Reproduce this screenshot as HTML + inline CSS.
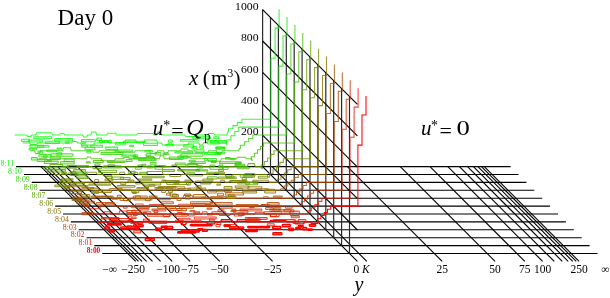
<!DOCTYPE html><html><head><meta charset="utf-8"><style>html,body{margin:0;padding:0;background:#fff;width:610px;height:298px;overflow:hidden}svg{display:block;will-change:transform}text{font-family:"Liberation Serif",serif}</style></head><body>
<svg width="610" height="298" viewBox="0 0 610 298">
<g stroke="#000" stroke-width="1.1" fill="none">
<line x1="102.20" y1="253.50" x2="597.50" y2="253.50"/>
<line x1="94.37" y1="245.60" x2="589.60" y2="245.60"/>
<line x1="86.54" y1="237.70" x2="581.70" y2="237.70"/>
<line x1="78.71" y1="229.80" x2="573.80" y2="229.80"/>
<line x1="70.88" y1="221.90" x2="565.90" y2="221.90"/>
<line x1="63.05" y1="214.00" x2="558.00" y2="214.00"/>
<line x1="55.22" y1="206.10" x2="550.10" y2="206.10"/>
<line x1="47.39" y1="198.20" x2="542.20" y2="198.20"/>
<line x1="39.56" y1="190.30" x2="534.30" y2="190.30"/>
<line x1="31.73" y1="182.40" x2="526.40" y2="182.40"/>
<line x1="23.90" y1="174.50" x2="518.50" y2="174.50"/>
<line x1="16.07" y1="166.60" x2="510.60" y2="166.60"/>
</g>
<g stroke="#000" stroke-width="1.1" fill="none">
<line x1="40.88" y1="166.60" x2="135.68" y2="261.40"/>
<line x1="43.74" y1="166.60" x2="138.54" y2="261.40"/>
<line x1="47.28" y1="166.60" x2="142.08" y2="261.40"/>
<line x1="51.79" y1="166.60" x2="146.59" y2="261.40"/>
<line x1="57.70" y1="166.60" x2="152.50" y2="261.40"/>
<line x1="65.78" y1="166.60" x2="160.58" y2="261.40"/>
<line x1="77.38" y1="166.60" x2="172.18" y2="261.40"/>
<line x1="95.20" y1="166.60" x2="190.00" y2="261.40"/>
<line x1="124.91" y1="166.60" x2="219.71" y2="261.40"/>
<line x1="177.83" y1="166.60" x2="272.63" y2="261.40"/>
<line x1="262.60" y1="166.60" x2="357.40" y2="261.40"/>
<line x1="347.37" y1="166.60" x2="442.17" y2="261.40"/>
<line x1="400.29" y1="166.60" x2="495.09" y2="261.40"/>
<line x1="430.00" y1="166.60" x2="524.80" y2="261.40"/>
<line x1="447.82" y1="166.60" x2="542.62" y2="261.40"/>
<line x1="459.42" y1="166.60" x2="554.22" y2="261.40"/>
<line x1="467.50" y1="166.60" x2="562.30" y2="261.40"/>
<line x1="473.41" y1="166.60" x2="568.21" y2="261.40"/>
<line x1="477.92" y1="166.60" x2="572.72" y2="261.40"/>
<line x1="481.46" y1="166.60" x2="576.26" y2="261.40"/>
<line x1="484.32" y1="166.60" x2="579.12" y2="261.40"/>
<line x1="272.00" y1="166.60" x2="366.80" y2="261.40"/>
<line x1="349.50" y1="253.50" x2="349.50" y2="96.50" stroke="#2a2a2a" stroke-width="1.2"/>
<line x1="341.60" y1="245.60" x2="341.60" y2="88.60" stroke="#2a2a2a" stroke-width="1.2"/>
<line x1="333.70" y1="237.70" x2="333.70" y2="80.70" stroke="#2a2a2a" stroke-width="1.2"/>
<line x1="325.80" y1="229.80" x2="325.80" y2="72.80" stroke="#2a2a2a" stroke-width="1.2"/>
<line x1="317.90" y1="221.90" x2="317.90" y2="64.90" stroke="#2a2a2a" stroke-width="1.2"/>
<line x1="310.00" y1="214.00" x2="310.00" y2="57.00" stroke="#2a2a2a" stroke-width="1.2"/>
<line x1="302.10" y1="206.10" x2="302.10" y2="49.10" stroke="#2a2a2a" stroke-width="1.2"/>
<line x1="294.20" y1="198.20" x2="294.20" y2="41.20" stroke="#2a2a2a" stroke-width="1.2"/>
<line x1="286.30" y1="190.30" x2="286.30" y2="33.30" stroke="#2a2a2a" stroke-width="1.2"/>
<line x1="278.40" y1="182.40" x2="278.40" y2="25.40" stroke="#2a2a2a" stroke-width="1.2"/>
<line x1="270.50" y1="174.50" x2="270.50" y2="17.50" stroke="#2a2a2a" stroke-width="1.2"/>
<line x1="262.60" y1="166.60" x2="262.60" y2="9.60" stroke="#2a2a2a" stroke-width="1.2"/>
<line x1="262.60" y1="135.20" x2="357.40" y2="230.00"/>
<line x1="262.60" y1="103.80" x2="357.40" y2="198.60"/>
<line x1="262.60" y1="72.40" x2="357.40" y2="167.20"/>
<line x1="262.60" y1="41.00" x2="357.40" y2="135.80"/>
<line x1="262.60" y1="9.60" x2="357.40" y2="104.40"/>
</g>
<g fill="none" stroke-width="1.05" stroke-opacity="0.8">
<path d="M101.60,221.90 L111.60,221.90 L112.60,220.10 L116.60,220.10 L117.60,221.90 L127.60,221.90 L128.60,220.10 L132.60,220.10 L133.60,221.90 L137.60,221.90 L138.60,224.50 L141.60,224.50 L142.60,221.90 L150.60,221.90 L150.60,221.90 L165.60,221.90 L165.60,221.90 L180.60,221.90 L181.60,224.50 L185.60,224.50 L186.60,221.90 L191.60,221.90 L191.60,221.90 L206.60,221.90 L207.60,223.90 L214.60,223.90 L215.60,221.90 L220.60,221.90 L221.60,219.70 L231.60,219.70 L232.60,221.90 L236.60,221.90 L237.60,219.70 L245.60,219.70 L246.60,221.90 L250.60,221.90 L250.60,221.90 L257.60,221.90 L257.60,221.90 L269.60,221.90 L270.60,220.40 L285.60,220.40 L286.60,221.90 L294.60,221.90 L295.60,223.90 L303.60,223.90 L304.60,221.90 L307.60,221.90 L307.60,221.90 L310.60,221.90 L311.60,223.40 L317.65,223.40 L318.65,221.90 L317.65,221.90" stroke="rgb(255,0,0)" stroke-width="1.35" stroke-opacity="1"/>
<path d="M317.65,221.90 L317.65,221.90 L317.65,218.74 L320.93,218.74 L320.93,218.74 L320.93,215.58 L324.21,215.58 L324.21,215.58 L324.21,212.42 L327.49,212.42 L327.49,212.42 L327.49,209.26 L330.77,209.26 L330.77,209.26 L330.77,206.10 L334.05,206.10 L357.90,206.10 L357.90,145.10 L362.00,145.10 L362.00,115.00 L366.00,115.00 L366.00,96.10" stroke="rgb(255,0,0)" stroke-opacity="1"/>
<g stroke="rgb(255,0,0)" fill="rgb(255,0,0)" stroke-width="1.35" stroke-opacity="1" fill-opacity="0.5"><rect x="107.27" y="223.70" width="14.00" height="1.40" rx="0.7"/><rect x="133.27" y="224.90" width="10.00" height="1.90" rx="0.7"/><rect x="161.27" y="226.10" width="6.00" height="1.40" rx="0.7"/><rect x="190.27" y="224.30" width="22.00" height="1.40" rx="0.7"/><rect x="224.27" y="224.90" width="6.00" height="1.40" rx="0.7"/><rect x="282.27" y="224.30" width="8.00" height="2.40" rx="0.7"/><rect x="298.27" y="225.50" width="5.00" height="1.40" rx="0.7"/><rect x="309.27" y="224.30" width="6.38" height="1.90" rx="0.7"/><rect x="104.69" y="226.90" width="5.00" height="2.40" rx="0.7"/><rect x="120.69" y="226.90" width="18.00" height="1.90" rx="0.7"/><rect x="155.69" y="228.10" width="6.00" height="2.40" rx="0.7"/><rect x="164.69" y="226.30" width="8.00" height="2.40" rx="0.7"/><rect x="197.69" y="228.70" width="5.00" height="1.40" rx="0.7"/><rect x="229.69" y="226.90" width="14.00" height="1.90" rx="0.7"/><rect x="247.69" y="226.30" width="22.00" height="1.40" rx="0.7"/><rect x="272.69" y="226.30" width="8.00" height="2.40" rx="0.7"/><rect x="288.69" y="228.10" width="5.00" height="2.40" rx="0.7"/><rect x="295.69" y="227.50" width="5.00" height="1.40" rx="0.7"/><rect x="302.69" y="227.50" width="4.00" height="2.40" rx="0.7"/><rect x="109.38" y="230.10" width="5.00" height="1.90" rx="0.7"/><rect x="181.38" y="230.10" width="18.00" height="1.90" rx="0.7"/><rect x="202.38" y="229.50" width="5.00" height="1.90" rx="0.7"/><rect x="245.38" y="230.10" width="12.00" height="1.40" rx="0.7"/><rect x="307.38" y="228.90" width="5.00" height="1.40" rx="0.7"/><rect x="177.64" y="231.70" width="18.00" height="1.40" rx="0.7"/><rect x="145.29" y="238.42" width="9.00" height="2.20" rx="0.7"/><rect x="272.87" y="232.71" width="9.00" height="2.20" rx="0.7"/></g>
<path d="M93.70,214.00 L99.70,214.00 L99.70,214.00 L103.70,214.00 L104.70,211.80 L109.70,211.80 L110.70,214.00 L118.70,214.00 L119.70,211.00 L126.70,211.00 L127.70,214.00 L142.70,214.00 L143.70,212.50 L146.70,212.50 L147.70,214.00 L162.70,214.00 L163.70,216.60 L169.70,216.60 L170.70,214.00 L176.70,214.00 L177.70,212.50 L181.70,212.50 L182.70,214.00 L187.70,214.00 L188.70,216.00 L193.70,216.00 L194.70,214.00 L197.70,214.00 L197.70,214.00 L201.70,214.00 L202.70,211.80 L206.70,211.80 L207.70,214.00 L212.70,214.00 L212.70,214.00 L218.70,214.00 L219.70,215.50 L229.70,215.50 L230.70,214.00 L233.70,214.00 L234.70,216.00 L241.70,216.00 L242.70,214.00 L254.70,214.00 L255.70,212.20 L263.70,212.20 L264.70,214.00 L269.70,214.00 L270.70,216.60 L278.70,216.60 L279.70,214.00 L289.70,214.00 L290.70,215.50 L298.70,215.50 L299.70,214.00 L307.94,214.00 L307.94,214.00 L307.94,214.00" stroke="rgb(232,23,0)"/>
<path d="M307.94,214.00 L307.94,214.00 L307.94,210.84 L311.41,210.84 L311.41,210.84 L311.41,207.68 L314.89,207.68 L314.89,207.68 L314.89,204.52 L318.36,204.52 L318.36,204.52 L318.36,201.36 L321.84,201.36 L321.84,201.36 L321.84,198.20 L325.31,198.20 L350.00,198.20 L350.00,137.20 L354.10,137.20 L354.10,107.10 L358.10,107.10 L358.10,88.20" stroke="rgb(232,23,0)"/>
<g stroke="rgb(232,23,0)" fill="rgb(232,23,0)" fill-opacity="0.15"><rect x="101.25" y="217.60" width="18.00" height="1.40" rx="0.7"/><rect x="131.25" y="217.00" width="5.00" height="1.40" rx="0.7"/><rect x="178.25" y="218.20" width="12.00" height="1.90" rx="0.7"/><rect x="194.25" y="217.00" width="22.00" height="1.90" rx="0.7"/><rect x="245.25" y="217.60" width="22.00" height="1.90" rx="0.7"/><rect x="109.33" y="218.40" width="22.00" height="2.40" rx="0.7"/><rect x="143.33" y="219.00" width="6.00" height="1.90" rx="0.7"/><rect x="175.33" y="220.20" width="8.00" height="2.40" rx="0.7"/><rect x="191.33" y="220.20" width="10.00" height="1.90" rx="0.7"/><rect x="209.33" y="219.00" width="5.00" height="1.90" rx="0.7"/><rect x="246.33" y="219.00" width="14.00" height="1.40" rx="0.7"/><rect x="273.33" y="219.60" width="22.00" height="1.90" rx="0.7"/><rect x="298.33" y="219.60" width="7.60" height="1.90" rx="0.7"/><rect x="97.90" y="221.60" width="5.00" height="1.40" rx="0.7"/><rect x="114.90" y="222.80" width="4.00" height="1.40" rx="0.7"/><rect x="130.90" y="222.20" width="10.00" height="1.40" rx="0.7"/><rect x="148.90" y="221.00" width="18.00" height="2.40" rx="0.7"/><rect x="216.90" y="222.20" width="4.00" height="2.40" rx="0.7"/><rect x="292.90" y="221.00" width="6.00" height="2.40" rx="0.7"/><rect x="126.92" y="225.60" width="5.00" height="1.40" rx="0.7"/><rect x="215.92" y="224.40" width="4.00" height="2.40" rx="0.7"/><rect x="223.92" y="224.40" width="12.00" height="2.40" rx="0.7"/><rect x="133.64" y="230.68" width="7.00" height="2.20" rx="0.7"/><rect x="267.28" y="223.68" width="7.00" height="2.20" rx="0.7"/></g>
<path d="M85.80,206.10 L88.80,206.10 L89.80,208.70 L99.80,208.70 L100.80,206.10 L104.80,206.10 L105.80,203.10 L113.80,203.10 L114.80,206.10 L122.80,206.10 L123.80,208.10 L126.80,208.10 L127.80,206.10 L130.80,206.10 L130.80,206.10 L134.80,206.10 L135.80,203.90 L142.80,203.90 L143.80,206.10 L148.80,206.10 L149.80,204.60 L161.80,204.60 L162.80,206.10 L169.80,206.10 L169.80,206.10 L177.80,206.10 L178.80,204.30 L190.80,204.30 L191.80,206.10 L198.80,206.10 L198.80,206.10 L204.80,206.10 L205.80,204.60 L209.80,204.60 L210.80,206.10 L218.80,206.10 L219.80,208.10 L231.80,208.10 L232.80,206.10 L240.80,206.10 L240.80,206.10 L248.80,206.10 L249.80,207.60 L253.80,207.60 L254.80,206.10 L260.80,206.10 L261.80,204.60 L268.80,204.60 L269.80,206.10 L284.80,206.10 L285.80,208.10 L291.80,208.10 L292.80,206.10 L300.80,206.10 L301.80,204.60 L301.39,204.60" stroke="rgb(209,46,0)"/>
<path d="M301.39,204.60 L301.39,204.60 L301.39,201.74 L304.44,201.74 L304.44,201.74 L304.44,198.88 L307.48,198.88 L307.48,198.88 L307.48,196.02 L310.53,196.02 L310.53,196.02 L310.53,193.16 L313.58,193.16 L313.58,193.16 L313.58,190.30 L316.63,190.30 L342.10,190.30 L342.10,129.30 L346.20,129.30 L346.20,99.20 L350.20,99.20 L350.20,80.30" stroke="rgb(209,46,0)"/>
<g stroke="rgb(209,46,0)" fill="rgb(209,46,0)" fill-opacity="0.15"><rect x="131.92" y="210.30" width="4.00" height="2.40" rx="0.7"/><rect x="138.92" y="208.50" width="10.00" height="1.40" rx="0.7"/><rect x="151.92" y="209.10" width="14.00" height="1.90" rx="0.7"/><rect x="169.92" y="208.50" width="12.00" height="1.90" rx="0.7"/><rect x="206.92" y="207.90" width="5.00" height="1.40" rx="0.7"/><rect x="217.92" y="209.70" width="6.00" height="1.90" rx="0.7"/><rect x="231.92" y="209.10" width="4.00" height="1.90" rx="0.7"/><rect x="239.92" y="209.10" width="22.00" height="1.90" rx="0.7"/><rect x="269.92" y="209.10" width="10.00" height="2.40" rx="0.7"/><rect x="283.92" y="209.70" width="10.00" height="2.40" rx="0.7"/><rect x="126.86" y="210.50" width="14.00" height="1.90" rx="0.7"/><rect x="142.86" y="211.70" width="8.00" height="1.90" rx="0.7"/><rect x="153.86" y="210.50" width="4.00" height="1.90" rx="0.7"/><rect x="180.86" y="212.90" width="5.00" height="1.90" rx="0.7"/><rect x="193.86" y="211.70" width="6.00" height="1.40" rx="0.7"/><rect x="211.86" y="211.70" width="14.00" height="2.40" rx="0.7"/><rect x="233.86" y="210.50" width="14.00" height="2.40" rx="0.7"/><rect x="263.86" y="211.70" width="18.00" height="2.40" rx="0.7"/><rect x="289.86" y="211.10" width="9.52" height="2.40" rx="0.7"/><rect x="127.32" y="214.30" width="4.00" height="1.90" rx="0.7"/><rect x="133.32" y="213.70" width="4.00" height="1.90" rx="0.7"/><rect x="147.32" y="214.30" width="22.00" height="1.90" rx="0.7"/><rect x="175.32" y="214.30" width="12.00" height="1.90" rx="0.7"/><rect x="207.32" y="213.70" width="5.00" height="1.40" rx="0.7"/><rect x="238.32" y="213.10" width="6.00" height="2.40" rx="0.7"/><rect x="270.32" y="214.30" width="6.00" height="2.40" rx="0.7"/><rect x="291.15" y="215.90" width="8.24" height="1.90" rx="0.7"/><rect x="247.94" y="217.79" width="10.00" height="2.20" rx="0.7"/><rect x="248.93" y="219.38" width="9.00" height="2.20" rx="0.7"/></g>
<path d="M77.90,198.20 L81.90,198.20 L82.90,200.20 L88.90,200.20 L89.90,198.20 L94.90,198.20 L95.90,196.40 L110.90,196.40 L111.90,198.20 L114.90,198.20 L114.90,198.20 L122.90,198.20 L123.90,200.80 L129.90,200.80 L130.90,198.20 L134.90,198.20 L135.90,196.00 L139.90,196.00 L140.90,198.20 L144.90,198.20 L145.90,200.80 L149.90,200.80 L150.90,198.20 L158.90,198.20 L159.90,199.70 L169.90,199.70 L170.90,198.20 L182.90,198.20 L183.90,195.20 L191.90,195.20 L192.90,198.20 L199.90,198.20 L199.90,198.20 L209.90,198.20 L210.90,196.70 L225.90,196.70 L226.90,198.20 L234.90,198.20 L234.90,198.20 L241.90,198.20 L241.90,198.20 L249.90,198.20 L249.90,198.20 L259.90,198.20 L259.90,198.20 L262.90,198.20 L263.90,196.70 L267.90,196.70 L268.90,198.20 L276.90,198.20 L276.90,198.20 L281.90,198.20 L281.90,198.20 L289.90,198.20 L289.90,198.20 L293.23,198.20" stroke="rgb(185,70,0)"/>
<path d="M293.23,198.20 L293.23,198.20 L293.23,195.04 L296.51,195.04 L296.51,195.04 L296.51,191.88 L299.79,191.88 L299.79,191.88 L299.79,188.72 L303.07,188.72 L303.07,188.72 L303.07,185.56 L306.35,185.56 L306.35,185.56 L306.35,182.40 L309.64,182.40 L334.20,182.40 L334.20,121.40 L338.30,121.40 L338.30,91.30 L342.30,91.30 L342.30,72.40" stroke="rgb(185,70,0)"/>
<g stroke="rgb(185,70,0)" fill="rgb(185,70,0)" fill-opacity="0.15"><rect x="80.47" y="201.20" width="14.00" height="1.90" rx="0.7"/><rect x="96.47" y="202.40" width="18.00" height="1.90" rx="0.7"/><rect x="161.47" y="201.80" width="12.00" height="1.90" rx="0.7"/><rect x="190.47" y="201.80" width="22.00" height="1.90" rx="0.7"/><rect x="83.18" y="204.40" width="5.00" height="1.90" rx="0.7"/><rect x="192.18" y="203.80" width="14.00" height="1.40" rx="0.7"/><rect x="210.18" y="202.60" width="22.00" height="2.40" rx="0.7"/><rect x="236.18" y="204.40" width="22.00" height="2.40" rx="0.7"/><rect x="261.18" y="204.40" width="4.00" height="1.40" rx="0.7"/><rect x="267.18" y="202.60" width="12.00" height="2.40" rx="0.7"/><rect x="131.54" y="205.80" width="18.00" height="1.90" rx="0.7"/><rect x="157.54" y="206.40" width="18.00" height="1.90" rx="0.7"/><rect x="179.54" y="206.40" width="14.00" height="1.90" rx="0.7"/><rect x="205.54" y="205.20" width="5.00" height="1.40" rx="0.7"/><rect x="265.54" y="207.60" width="8.00" height="1.90" rx="0.7"/><rect x="189.90" y="210.40" width="5.00" height="1.40" rx="0.7"/><rect x="230.90" y="210.40" width="5.00" height="1.40" rx="0.7"/><rect x="271.90" y="209.80" width="19.33" height="1.40" rx="0.7"/><rect x="176.61" y="208.43" width="10.00" height="2.20" rx="0.7"/><rect x="81.99" y="212.59" width="12.00" height="2.20" rx="0.7"/></g>
<path d="M70.00,190.30 L75.00,190.30 L75.00,190.30 L90.00,190.30 L91.00,188.10 L98.00,188.10 L99.00,190.30 L105.00,190.30 L105.00,190.30 L109.00,190.30 L110.00,188.50 L122.00,188.50 L123.00,190.30 L129.00,190.30 L129.00,190.30 L144.00,190.30 L144.00,190.30 L150.00,190.30 L150.00,190.30 L156.00,190.30 L157.00,188.10 L172.00,188.10 L173.00,190.30 L177.00,190.30 L178.00,188.50 L190.00,188.50 L191.00,190.30 L196.00,190.30 L197.00,188.80 L202.00,188.80 L203.00,190.30 L207.00,190.30 L208.00,192.90 L216.00,192.90 L217.00,190.30 L224.00,190.30 L225.00,192.30 L231.00,192.30 L232.00,190.30 L236.00,190.30 L237.00,188.50 L242.00,188.50 L243.00,190.30 L255.00,190.30 L256.00,188.80 L268.00,188.80 L269.00,190.30 L273.00,190.30 L273.00,190.30 L280.00,190.30 L281.00,188.80 L284.35,188.80" stroke="rgb(162,93,0)"/>
<path d="M284.35,188.80 L284.35,188.80 L284.35,185.94 L287.84,185.94 L287.84,185.94 L287.84,183.08 L291.33,183.08 L291.33,183.08 L291.33,180.22 L294.82,180.22 L294.82,180.22 L294.82,177.36 L298.31,177.36 L298.31,177.36 L298.31,174.50 L301.80,174.50 L326.30,174.50 L326.30,113.50 L330.40,113.50 L330.40,83.40 L334.40,83.40 L334.40,64.50" stroke="rgb(162,93,0)"/>
<g stroke="rgb(162,93,0)" fill="rgb(162,93,0)" fill-opacity="0.15"><rect x="77.47" y="193.30" width="4.00" height="1.40" rx="0.7"/><rect x="132.47" y="192.10" width="4.00" height="1.40" rx="0.7"/><rect x="166.47" y="193.30" width="4.00" height="1.90" rx="0.7"/><rect x="172.47" y="194.50" width="6.00" height="2.40" rx="0.7"/><rect x="184.47" y="193.90" width="6.00" height="1.90" rx="0.7"/><rect x="193.47" y="194.50" width="12.00" height="2.40" rx="0.7"/><rect x="217.47" y="193.30" width="6.00" height="2.40" rx="0.7"/><rect x="225.47" y="192.70" width="18.00" height="2.40" rx="0.7"/><rect x="73.27" y="197.10" width="14.00" height="2.40" rx="0.7"/><rect x="91.27" y="195.90" width="22.00" height="1.40" rx="0.7"/><rect x="117.27" y="195.30" width="4.00" height="1.90" rx="0.7"/><rect x="133.27" y="195.90" width="14.00" height="2.40" rx="0.7"/><rect x="149.27" y="195.90" width="8.00" height="1.40" rx="0.7"/><rect x="185.27" y="196.50" width="5.00" height="2.40" rx="0.7"/><rect x="228.27" y="194.70" width="6.00" height="1.90" rx="0.7"/><rect x="273.27" y="195.90" width="9.07" height="1.40" rx="0.7"/><rect x="71.95" y="199.10" width="10.00" height="1.40" rx="0.7"/><rect x="111.95" y="197.90" width="6.00" height="1.40" rx="0.7"/><rect x="119.95" y="198.50" width="10.00" height="1.90" rx="0.7"/><rect x="133.95" y="198.50" width="18.00" height="1.40" rx="0.7"/><rect x="176.95" y="198.50" width="4.00" height="1.90" rx="0.7"/><rect x="200.95" y="197.30" width="22.00" height="1.40" rx="0.7"/><rect x="76.78" y="201.58" width="12.00" height="2.20" rx="0.7"/><rect x="273.88" y="207.63" width="7.00" height="2.20" rx="0.7"/></g>
<path d="M62.10,182.40 L70.10,182.40 L71.10,184.40 L74.10,184.40 L75.10,182.40 L87.10,182.40 L87.10,182.40 L94.10,182.40 L95.10,179.40 L98.10,179.40 L99.10,182.40 L111.10,182.40 L111.10,182.40 L123.10,182.40 L123.10,182.40 L135.10,182.40 L136.10,183.90 L140.10,183.90 L141.10,182.40 L146.10,182.40 L146.10,182.40 L158.10,182.40 L158.10,182.40 L163.10,182.40 L164.10,180.60 L179.10,180.60 L180.10,182.40 L186.10,182.40 L187.10,185.00 L190.10,185.00 L191.10,182.40 L195.10,182.40 L196.10,180.90 L211.10,180.90 L212.10,182.40 L220.10,182.40 L221.10,180.20 L224.10,180.20 L225.10,182.40 L229.10,182.40 L230.10,180.60 L245.10,180.60 L246.10,182.40 L252.10,182.40 L253.10,180.20 L268.10,180.20 L269.10,182.40 L275.10,182.40 L275.10,182.40 L277.59,182.40" stroke="rgb(139,116,0)"/>
<path d="M277.59,182.40 L277.59,182.40 L277.59,179.24 L280.96,179.24 L280.96,179.24 L280.96,176.08 L284.34,176.08 L284.34,176.08 L284.34,172.92 L287.71,172.92 L287.71,172.92 L287.71,169.76 L291.09,169.76 L291.09,169.76 L291.09,166.60 L294.46,166.60 L318.40,166.60 L318.40,105.60 L322.50,105.60 L322.50,75.50 L326.50,75.50 L326.50,56.60" stroke="rgb(139,116,0)"/>
<g stroke="rgb(139,116,0)" fill="rgb(139,116,0)" fill-opacity="0.15"><rect x="66.09" y="185.40" width="22.00" height="1.40" rx="0.7"/><rect x="117.09" y="185.40" width="18.00" height="1.90" rx="0.7"/><rect x="149.09" y="184.80" width="6.00" height="1.40" rx="0.7"/><rect x="158.09" y="186.60" width="18.00" height="1.40" rx="0.7"/><rect x="196.09" y="185.40" width="5.00" height="1.90" rx="0.7"/><rect x="224.09" y="186.60" width="8.00" height="2.40" rx="0.7"/><rect x="235.09" y="186.00" width="14.00" height="1.90" rx="0.7"/><rect x="63.85" y="186.80" width="6.00" height="1.40" rx="0.7"/><rect x="81.85" y="187.40" width="12.00" height="1.40" rx="0.7"/><rect x="116.85" y="189.20" width="14.00" height="1.40" rx="0.7"/><rect x="136.85" y="187.40" width="12.00" height="1.40" rx="0.7"/><rect x="154.85" y="187.40" width="8.00" height="1.90" rx="0.7"/><rect x="166.85" y="186.80" width="18.00" height="2.40" rx="0.7"/><rect x="187.85" y="188.00" width="18.00" height="1.90" rx="0.7"/><rect x="247.85" y="186.80" width="14.00" height="2.40" rx="0.7"/><rect x="264.85" y="189.20" width="10.00" height="1.40" rx="0.7"/><rect x="69.59" y="191.20" width="12.00" height="2.40" rx="0.7"/><rect x="93.59" y="190.60" width="18.00" height="1.90" rx="0.7"/><rect x="161.59" y="190.00" width="4.00" height="2.40" rx="0.7"/><rect x="168.59" y="190.60" width="4.00" height="1.90" rx="0.7"/><rect x="208.59" y="189.40" width="22.00" height="1.90" rx="0.7"/><rect x="242.59" y="191.20" width="14.00" height="1.90" rx="0.7"/><rect x="264.59" y="190.60" width="10.99" height="2.40" rx="0.7"/><rect x="81.91" y="194.60" width="8.00" height="2.40" rx="0.7"/><rect x="170.00" y="194.06" width="7.00" height="2.20" rx="0.7"/><rect x="225.87" y="196.17" width="10.00" height="2.20" rx="0.7"/></g>
<path d="M54.20,174.50 L60.20,174.50 L60.20,174.50 L63.20,174.50 L63.20,174.50 L67.20,174.50 L68.20,173.00 L76.20,173.00 L77.20,174.50 L85.20,174.50 L86.20,172.30 L96.20,172.30 L97.20,174.50 L103.20,174.50 L104.20,176.00 L111.20,176.00 L112.20,174.50 L119.20,174.50 L120.20,172.30 L124.20,172.30 L125.20,174.50 L133.20,174.50 L134.20,172.30 L137.20,172.30 L138.20,174.50 L143.20,174.50 L143.20,174.50 L146.20,174.50 L147.20,171.50 L162.20,171.50 L163.20,174.50 L169.20,174.50 L170.20,176.50 L180.20,176.50 L181.20,174.50 L189.20,174.50 L190.20,176.00 L202.20,176.00 L203.20,174.50 L213.20,174.50 L214.20,173.00 L218.20,173.00 L219.20,174.50 L225.20,174.50 L226.20,177.10 L231.20,177.10 L232.20,174.50 L235.20,174.50 L235.20,174.50 L243.20,174.50 L244.20,177.10 L254.20,177.10 L255.20,174.50 L267.20,174.50 L268.20,177.10 L269.62,177.10" stroke="rgb(116,139,0)"/>
<path d="M269.62,177.10 L269.62,177.10 L269.62,173.42 L273.05,173.42 L273.05,173.42 L273.05,169.74 L276.48,169.74 L276.48,169.74 L276.48,166.06 L279.90,166.06 L279.90,166.06 L279.90,162.38 L283.33,162.38 L283.33,162.38 L283.33,158.70 L286.76,158.70 L310.50,158.70 L310.50,97.70 L314.60,97.70 L314.60,67.60 L318.60,67.60 L318.60,48.70" stroke="rgb(116,139,0)"/>
<g stroke="rgb(116,139,0)" fill="rgb(116,139,0)" fill-opacity="0.15"><rect x="61.27" y="178.70" width="12.00" height="1.40" rx="0.7"/><rect x="106.27" y="176.30" width="6.00" height="1.90" rx="0.7"/><rect x="120.27" y="177.50" width="10.00" height="1.90" rx="0.7"/><rect x="142.27" y="176.30" width="22.00" height="1.40" rx="0.7"/><rect x="218.27" y="176.90" width="18.00" height="1.90" rx="0.7"/><rect x="242.27" y="177.50" width="4.00" height="2.40" rx="0.7"/><rect x="258.27" y="176.30" width="9.35" height="1.90" rx="0.7"/><rect x="59.93" y="180.70" width="12.00" height="2.40" rx="0.7"/><rect x="104.93" y="178.90" width="8.00" height="1.90" rx="0.7"/><rect x="127.93" y="180.10" width="6.00" height="1.90" rx="0.7"/><rect x="137.93" y="178.90" width="14.00" height="1.40" rx="0.7"/><rect x="161.93" y="180.10" width="4.00" height="2.40" rx="0.7"/><rect x="173.93" y="181.30" width="5.00" height="2.40" rx="0.7"/><rect x="184.93" y="180.10" width="6.00" height="1.90" rx="0.7"/><rect x="202.93" y="178.90" width="10.00" height="2.40" rx="0.7"/><rect x="230.93" y="180.70" width="8.00" height="1.90" rx="0.7"/><rect x="241.93" y="180.10" width="5.00" height="1.90" rx="0.7"/><rect x="252.93" y="181.30" width="5.00" height="1.90" rx="0.7"/><rect x="72.75" y="182.70" width="12.00" height="1.40" rx="0.7"/><rect x="88.75" y="183.90" width="22.00" height="1.40" rx="0.7"/><rect x="120.75" y="182.70" width="5.00" height="1.90" rx="0.7"/><rect x="142.75" y="182.70" width="18.00" height="2.40" rx="0.7"/><rect x="166.75" y="182.10" width="22.00" height="2.40" rx="0.7"/><rect x="200.75" y="182.70" width="10.00" height="1.40" rx="0.7"/><rect x="216.75" y="183.90" width="4.00" height="1.40" rx="0.7"/><rect x="237.75" y="182.10" width="12.00" height="1.90" rx="0.7"/><rect x="54.71" y="184.90" width="12.00" height="1.90" rx="0.7"/><rect x="144.71" y="186.10" width="4.00" height="1.40" rx="0.7"/><rect x="91.62" y="191.25" width="7.00" height="2.20" rx="0.7"/><rect x="131.77" y="190.64" width="7.00" height="2.20" rx="0.7"/></g>
<path d="M46.30,166.60 L49.30,166.60 L50.30,164.40 L62.30,164.40 L63.30,166.60 L68.30,166.60 L69.30,168.10 L76.30,168.10 L77.30,166.60 L92.30,166.60 L93.30,168.60 L101.30,168.60 L102.30,166.60 L107.30,166.60 L108.30,164.80 L114.30,164.80 L115.30,166.60 L123.30,166.60 L123.30,166.60 L130.30,166.60 L130.30,166.60 L137.30,166.60 L138.30,165.10 L142.30,165.10 L143.30,166.60 L151.30,166.60 L151.30,166.60 L154.30,166.60 L155.30,169.20 L162.30,169.20 L163.30,166.60 L171.30,166.60 L172.30,165.10 L176.30,165.10 L177.30,166.60 L187.30,166.60 L188.30,163.60 L196.30,163.60 L197.30,166.60 L209.30,166.60 L210.30,169.20 L222.30,169.20 L223.30,166.60 L235.30,166.60 L235.30,166.60 L247.30,166.60 L248.30,163.60 L254.30,163.60 L255.30,166.60 L261.22,166.60 L262.22,168.60 L261.22,168.60" stroke="rgb(93,162,0)"/>
<path d="M261.22,168.60 L261.22,168.60 L261.22,165.04 L264.42,165.04 L264.42,165.04 L264.42,161.48 L267.62,161.48 L267.62,161.48 L267.62,157.92 L270.82,157.92 L270.82,157.92 L270.82,154.36 L274.02,154.36 L274.02,154.36 L274.02,150.80 L277.22,150.80 L302.60,150.80 L302.60,89.80 L306.70,89.80 L306.70,59.70 L310.70,59.70 L310.70,40.80" stroke="rgb(93,162,0)"/>
<g stroke="rgb(93,162,0)" fill="rgb(93,162,0)" fill-opacity="0.15"><rect x="47.52" y="169.60" width="18.00" height="2.40" rx="0.7"/><rect x="73.52" y="169.60" width="12.00" height="2.40" rx="0.7"/><rect x="98.52" y="170.20" width="18.00" height="2.40" rx="0.7"/><rect x="162.52" y="169.60" width="12.00" height="1.90" rx="0.7"/><rect x="177.52" y="169.60" width="22.00" height="1.40" rx="0.7"/><rect x="218.52" y="169.60" width="5.00" height="1.90" rx="0.7"/><rect x="61.67" y="172.20" width="5.00" height="1.40" rx="0.7"/><rect x="70.67" y="171.60" width="5.00" height="1.90" rx="0.7"/><rect x="139.67" y="172.20" width="8.00" height="1.90" rx="0.7"/><rect x="186.67" y="172.80" width="8.00" height="1.40" rx="0.7"/><rect x="206.67" y="172.20" width="18.00" height="1.40" rx="0.7"/><rect x="244.67" y="173.40" width="10.00" height="2.40" rx="0.7"/><rect x="70.19" y="173.60" width="8.00" height="1.90" rx="0.7"/><rect x="226.19" y="176.00" width="8.00" height="1.90" rx="0.7"/><rect x="240.19" y="174.80" width="12.00" height="2.40" rx="0.7"/><rect x="76.64" y="177.00" width="12.00" height="1.40" rx="0.7"/><rect x="111.64" y="177.00" width="12.00" height="2.40" rx="0.7"/><rect x="207.25" y="176.74" width="10.00" height="2.20" rx="0.7"/><rect x="245.65" y="182.52" width="12.00" height="2.20" rx="0.7"/></g>
<path d="M38.40,158.70 L46.40,158.70 L47.40,160.20 L50.40,160.20 L51.40,158.70 L66.40,158.70 L66.40,158.70 L72.40,158.70 L72.40,158.70 L82.40,158.70 L82.40,158.70 L86.40,158.70 L87.40,156.90 L90.40,156.90 L91.40,158.70 L98.40,158.70 L98.40,158.70 L101.40,158.70 L102.40,160.70 L114.40,160.70 L115.40,158.70 L119.40,158.70 L119.40,158.70 L123.40,158.70 L124.40,157.20 L128.40,157.20 L129.40,158.70 L133.40,158.70 L133.40,158.70 L145.40,158.70 L146.40,156.50 L153.40,156.50 L154.40,158.70 L159.40,158.70 L160.40,155.70 L163.40,155.70 L164.40,158.70 L179.40,158.70 L180.40,157.20 L190.40,157.20 L191.40,158.70 L195.40,158.70 L195.40,158.70 L207.40,158.70 L208.40,161.30 L220.40,161.30 L221.40,158.70 L236.40,158.70 L237.40,157.20 L245.40,157.20 L246.40,158.70 L251.31,158.70 L252.31,160.20 L251.31,160.20" stroke="rgb(70,185,0)"/>
<path d="M251.31,160.20 L251.31,160.20 L251.31,156.74 L254.38,156.74 L254.38,156.74 L254.38,153.28 L257.46,153.28 L257.46,153.28 L257.46,149.82 L260.53,149.82 L260.53,149.82 L260.53,146.36 L263.60,146.36 L263.60,146.36 L263.60,142.90 L266.67,142.90 L294.70,142.90 L294.70,81.90 L298.80,81.90 L298.80,51.80 L302.80,51.80 L302.80,32.90" stroke="rgb(70,185,0)"/>
<g stroke="rgb(70,185,0)" fill="rgb(70,185,0)" fill-opacity="0.15"><rect x="44.28" y="161.10" width="14.00" height="2.40" rx="0.7"/><rect x="60.28" y="161.70" width="14.00" height="2.40" rx="0.7"/><rect x="86.28" y="161.70" width="4.00" height="1.40" rx="0.7"/><rect x="93.28" y="160.50" width="10.00" height="1.90" rx="0.7"/><rect x="107.28" y="161.10" width="18.00" height="1.40" rx="0.7"/><rect x="175.28" y="162.90" width="10.00" height="1.90" rx="0.7"/><rect x="191.28" y="161.70" width="14.00" height="1.90" rx="0.7"/><rect x="211.28" y="161.10" width="5.00" height="1.40" rx="0.7"/><rect x="219.28" y="161.70" width="22.00" height="1.90" rx="0.7"/><rect x="66.92" y="165.50" width="22.00" height="1.90" rx="0.7"/><rect x="94.92" y="163.70" width="5.00" height="1.90" rx="0.7"/><rect x="141.92" y="164.30" width="4.00" height="1.40" rx="0.7"/><rect x="153.92" y="165.50" width="12.00" height="1.40" rx="0.7"/><rect x="185.92" y="164.30" width="12.00" height="2.40" rx="0.7"/><rect x="209.92" y="164.90" width="5.00" height="1.90" rx="0.7"/><rect x="218.92" y="164.90" width="4.00" height="1.90" rx="0.7"/><rect x="234.92" y="164.30" width="10.00" height="1.40" rx="0.7"/><rect x="43.40" y="166.90" width="22.00" height="2.40" rx="0.7"/><rect x="103.40" y="165.70" width="18.00" height="2.40" rx="0.7"/><rect x="135.40" y="166.90" width="6.00" height="2.40" rx="0.7"/><rect x="147.40" y="165.70" width="5.00" height="2.40" rx="0.7"/><rect x="197.40" y="165.70" width="5.00" height="2.40" rx="0.7"/><rect x="218.40" y="166.30" width="5.00" height="1.40" rx="0.7"/><rect x="237.40" y="166.90" width="11.91" height="1.90" rx="0.7"/><rect x="195.79" y="169.70" width="12.00" height="1.40" rx="0.7"/><rect x="128.28" y="171.36" width="7.00" height="2.20" rx="0.7"/><rect x="75.41" y="172.99" width="12.00" height="2.20" rx="0.7"/></g>
<path d="M30.50,150.80 L34.50,150.80 L35.50,153.40 L39.50,153.40 L40.50,150.80 L52.50,150.80 L52.50,150.80 L55.50,150.80 L55.50,150.80 L62.50,150.80 L63.50,147.80 L70.50,147.80 L71.50,150.80 L81.50,150.80 L81.50,150.80 L88.50,150.80 L88.50,150.80 L92.50,150.80 L93.50,152.30 L98.50,152.30 L99.50,150.80 L111.50,150.80 L111.50,150.80 L118.50,150.80 L119.50,152.30 L134.50,152.30 L135.50,150.80 L142.50,150.80 L142.50,150.80 L149.50,150.80 L150.50,153.40 L156.50,153.40 L157.50,150.80 L163.50,150.80 L164.50,152.80 L167.50,152.80 L168.50,150.80 L174.50,150.80 L174.50,150.80 L180.50,150.80 L181.50,149.00 L187.50,149.00 L188.50,150.80 L194.50,150.80 L195.50,152.80 L207.50,152.80 L208.50,150.80 L216.50,150.80 L217.50,153.40 L221.50,153.40 L222.50,150.80 L234.50,150.80 L234.50,150.80 L238.50,150.80 L239.50,148.60 L240.40,148.60" stroke="rgb(46,209,0)"/>
<path d="M240.40,148.60 L240.40,148.60 L240.40,145.20 L244.53,145.20 L244.53,145.20 L244.53,141.80 L248.67,141.80 L248.67,141.80 L248.67,138.40 L252.80,138.40 L252.80,138.40 L252.80,135.00 L256.93,135.00 L286.80,135.00 L286.80,74.00 L290.90,74.00 L290.90,43.90 L294.90,43.90 L294.90,25.00" stroke="rgb(46,209,0)"/>
<g stroke="rgb(46,209,0)" fill="rgb(46,209,0)" fill-opacity="0.15"><rect x="50.95" y="153.80" width="22.00" height="2.40" rx="0.7"/><rect x="100.95" y="152.60" width="22.00" height="1.90" rx="0.7"/><rect x="132.95" y="155.00" width="5.00" height="1.40" rx="0.7"/><rect x="145.95" y="153.80" width="5.00" height="1.90" rx="0.7"/><rect x="154.95" y="152.60" width="6.00" height="2.40" rx="0.7"/><rect x="162.95" y="153.20" width="6.00" height="1.40" rx="0.7"/><rect x="180.95" y="153.80" width="22.00" height="2.40" rx="0.7"/><rect x="214.95" y="152.60" width="6.00" height="1.90" rx="0.7"/><rect x="31.31" y="157.60" width="6.00" height="2.40" rx="0.7"/><rect x="43.31" y="155.80" width="4.00" height="1.40" rx="0.7"/><rect x="50.31" y="157.00" width="10.00" height="2.40" rx="0.7"/><rect x="133.31" y="157.60" width="22.00" height="1.40" rx="0.7"/><rect x="169.31" y="157.00" width="14.00" height="2.40" rx="0.7"/><rect x="225.31" y="157.60" width="5.00" height="1.40" rx="0.7"/><rect x="37.17" y="159.60" width="14.00" height="1.90" rx="0.7"/><rect x="64.17" y="159.00" width="10.00" height="2.40" rx="0.7"/><rect x="126.17" y="159.60" width="6.00" height="1.90" rx="0.7"/><rect x="138.17" y="159.00" width="18.00" height="1.40" rx="0.7"/><rect x="189.17" y="160.20" width="6.00" height="1.90" rx="0.7"/><rect x="230.17" y="158.40" width="5.00" height="1.40" rx="0.7"/><rect x="150.24" y="162.40" width="6.00" height="1.90" rx="0.7"/><rect x="223.09" y="167.23" width="5.00" height="2.20" rx="0.7"/><rect x="235.47" y="162.60" width="5.00" height="2.20" rx="0.7"/></g>
<path d="M22.60,142.90 L29.60,142.90 L30.60,144.40 L36.60,144.40 L37.60,142.90 L49.60,142.90 L49.60,142.90 L59.60,142.90 L59.60,142.90 L71.60,142.90 L72.60,141.40 L76.60,141.40 L77.60,142.90 L80.60,142.90 L81.60,144.90 L93.60,144.90 L94.60,142.90 L101.60,142.90 L102.60,141.40 L108.60,141.40 L109.60,142.90 L124.60,142.90 L125.60,139.90 L135.60,139.90 L136.60,142.90 L140.60,142.90 L140.60,142.90 L143.60,142.90 L144.60,139.90 L156.60,139.90 L157.60,142.90 L161.60,142.90 L162.60,144.90 L167.60,144.90 L168.60,142.90 L171.60,142.90 L172.60,144.90 L187.60,144.90 L188.60,142.90 L198.60,142.90 L199.60,144.90 L202.60,144.90 L203.60,142.90 L206.60,142.90 L207.60,140.70 L217.60,140.70 L218.60,142.90 L225.60,142.90 L226.60,144.40 L226.88,144.40" stroke="rgb(23,232,0)"/>
<path d="M226.88,144.40 L226.88,144.40 L226.88,140.07 L230.85,140.07 L230.85,140.07 L230.85,135.75 L234.83,135.75 L234.83,135.75 L234.83,131.43 L238.80,131.43 L238.80,131.43 L238.80,127.10 L242.78,127.10 L278.90,127.10 L278.90,66.10 L283.00,66.10 L283.00,36.00 L287.00,36.00 L287.00,17.10" stroke="rgb(23,232,0)"/>
<g stroke="rgb(23,232,0)" fill="rgb(23,232,0)" fill-opacity="0.15"><rect x="29.67" y="145.30" width="14.00" height="1.90" rx="0.7"/><rect x="81.67" y="145.30" width="6.00" height="1.90" rx="0.7"/><rect x="90.67" y="145.30" width="12.00" height="1.90" rx="0.7"/><rect x="105.67" y="147.10" width="12.00" height="2.40" rx="0.7"/><rect x="129.67" y="145.30" width="4.00" height="1.40" rx="0.7"/><rect x="183.67" y="144.70" width="10.00" height="2.40" rx="0.7"/><rect x="199.67" y="145.90" width="4.00" height="2.40" rx="0.7"/><rect x="215.67" y="147.10" width="9.21" height="1.40" rx="0.7"/><rect x="29.00" y="148.50" width="8.00" height="1.40" rx="0.7"/><rect x="57.00" y="147.90" width="5.00" height="1.40" rx="0.7"/><rect x="85.00" y="147.30" width="10.00" height="2.40" rx="0.7"/><rect x="196.00" y="149.70" width="8.00" height="2.40" rx="0.7"/><rect x="216.00" y="147.30" width="8.88" height="2.40" rx="0.7"/><rect x="37.89" y="151.10" width="5.00" height="1.90" rx="0.7"/><rect x="46.89" y="149.90" width="10.00" height="1.90" rx="0.7"/><rect x="86.89" y="151.10" width="4.00" height="1.90" rx="0.7"/><rect x="114.89" y="149.90" width="18.00" height="1.90" rx="0.7"/><rect x="144.89" y="150.50" width="8.00" height="1.40" rx="0.7"/><rect x="174.89" y="151.70" width="18.00" height="1.40" rx="0.7"/><rect x="216.89" y="152.30" width="7.99" height="1.40" rx="0.7"/><rect x="38.86" y="154.50" width="12.00" height="2.40" rx="0.7"/><rect x="56.86" y="152.70" width="5.00" height="2.40" rx="0.7"/><rect x="121.86" y="155.10" width="14.00" height="1.90" rx="0.7"/><rect x="177.91" y="156.06" width="10.00" height="2.20" rx="0.7"/><rect x="204.47" y="158.49" width="12.00" height="2.20" rx="0.7"/></g>
<path d="M14.70,135.00 L26.70,135.00 L27.70,136.50 L30.70,136.50 L31.70,135.00 L35.70,135.00 L36.70,132.80 L51.70,132.80 L52.70,135.00 L59.70,135.00 L60.70,133.50 L63.70,133.50 L64.70,135.00 L72.70,135.00 L72.70,135.00 L82.70,135.00 L83.70,137.00 L86.70,137.00 L87.70,135.00 L90.70,135.00 L91.70,132.00 L95.70,132.00 L96.70,135.00 L106.70,135.00 L107.70,133.20 L115.70,133.20 L116.70,135.00 L121.70,135.00 L121.70,135.00 L136.70,135.00 L137.70,133.50 L152.70,133.50 L153.70,135.00 L156.70,135.00 L157.70,132.00 L160.70,132.00 L161.70,135.00 L169.70,135.00 L169.70,135.00 L184.70,135.00 L185.70,136.50 L195.70,136.50 L196.70,135.00 L203.70,135.00 L203.70,135.00 L207.70,135.00 L208.70,133.50 L213.70,133.50 L214.70,135.00 L226.70,135.00 L227.70,132.00 L228.45,132.00" stroke="rgb(0,255,0)"/>
<path d="M228.45,132.00 L228.45,132.00 L228.45,128.80 L232.95,128.80 L232.95,128.80 L232.95,125.60 L237.44,125.60 L237.44,125.60 L237.44,122.40 L241.94,122.40 L241.94,122.40 L241.94,119.20 L246.44,119.20 L271.00,119.20 L271.00,58.20 L275.10,58.20 L275.10,28.10 L279.10,28.10 L279.10,9.20" stroke="rgb(0,255,0)"/>
<g stroke="rgb(0,255,0)" fill="rgb(0,255,0)" fill-opacity="0.15"><rect x="21.66" y="139.20" width="8.00" height="2.40" rx="0.7"/><rect x="33.66" y="136.80" width="18.00" height="1.90" rx="0.7"/><rect x="54.66" y="138.60" width="18.00" height="2.40" rx="0.7"/><rect x="96.66" y="138.00" width="5.00" height="2.40" rx="0.7"/><rect x="192.66" y="136.80" width="18.00" height="1.90" rx="0.7"/><rect x="213.66" y="136.80" width="5.00" height="1.90" rx="0.7"/><rect x="28.39" y="140.00" width="14.00" height="1.90" rx="0.7"/><rect x="45.39" y="141.20" width="14.00" height="2.40" rx="0.7"/><rect x="65.39" y="141.80" width="4.00" height="1.40" rx="0.7"/><rect x="81.39" y="139.40" width="14.00" height="2.40" rx="0.7"/><rect x="99.39" y="140.60" width="12.00" height="1.90" rx="0.7"/><rect x="123.39" y="141.20" width="22.00" height="1.40" rx="0.7"/><rect x="168.39" y="140.00" width="4.00" height="1.90" rx="0.7"/><rect x="180.39" y="139.40" width="18.00" height="1.90" rx="0.7"/><rect x="210.39" y="140.60" width="16.05" height="2.40" rx="0.7"/><rect x="81.48" y="142.00" width="4.00" height="1.40" rx="0.7"/><rect x="115.48" y="142.60" width="10.00" height="2.40" rx="0.7"/><rect x="143.48" y="143.20" width="14.00" height="2.40" rx="0.7"/><rect x="165.48" y="144.40" width="8.00" height="1.40" rx="0.7"/><rect x="207.48" y="142.00" width="12.00" height="1.90" rx="0.7"/><rect x="37.27" y="145.40" width="12.00" height="1.90" rx="0.7"/><rect x="192.01" y="146.64" width="5.00" height="2.20" rx="0.7"/><rect x="204.29" y="152.40" width="12.00" height="2.20" rx="0.7"/></g>
</g>
<text transform="translate(258.6,135.30) scale(1.1,1)" x="0" y="0" font-size="10.7" text-anchor="end">200</text>
<text transform="translate(258.6,103.90) scale(1.1,1)" x="0" y="0" font-size="10.7" text-anchor="end">400</text>
<text transform="translate(258.6,72.50) scale(1.1,1)" x="0" y="0" font-size="10.7" text-anchor="end">600</text>
<text transform="translate(258.6,41.10) scale(1.1,1)" x="0" y="0" font-size="10.7" text-anchor="end">800</text>
<text transform="translate(258.6,9.70) scale(1.1,1)" x="0" y="0" font-size="10.7" text-anchor="end">1000</text>
<text x="109.50" y="273.0" font-size="11.5" text-anchor="middle">−∞</text>
<text x="133.18" y="273.0" font-size="11.5" text-anchor="middle">−250</text>
<text x="168.18" y="273.0" font-size="11.5" text-anchor="middle">−100</text>
<text x="190.00" y="273.0" font-size="11.5" text-anchor="middle">−75</text>
<text x="219.71" y="273.0" font-size="11.5" text-anchor="middle">−50</text>
<text x="272.63" y="273.0" font-size="11.5" text-anchor="middle">−25</text>
<text x="356.40" y="273.0" font-size="11.5" text-anchor="middle">0</text>
<text x="442.17" y="273.0" font-size="11.5" text-anchor="middle">25</text>
<text x="495.09" y="273.0" font-size="11.5" text-anchor="middle">50</text>
<text x="524.80" y="273.0" font-size="11.5" text-anchor="middle">75</text>
<text x="542.62" y="273.0" font-size="11.5" text-anchor="middle">100</text>
<text x="579.12" y="273.0" font-size="11.5" text-anchor="middle">250</text>
<text x="605.40" y="273.0" font-size="11.5" text-anchor="middle">∞</text>
<text x="365.80" y="273.0" font-size="11.5" text-anchor="middle" font-style="italic">K</text>
<text x="354.6" y="291.3" font-size="20" font-style="italic">y</text>
<text x="100.20" y="253.20" font-size="7.3" text-anchor="end" fill="rgb(255,0,0)" font-weight="bold">8:00</text>
<text x="92.37" y="245.30" font-size="7.8" text-anchor="end" fill="rgb(232,23,0)">8:01</text>
<text x="84.54" y="237.40" font-size="7.8" text-anchor="end" fill="rgb(209,46,0)">8:02</text>
<text x="76.71" y="229.50" font-size="7.8" text-anchor="end" fill="rgb(185,70,0)">8:03</text>
<text x="68.88" y="221.60" font-size="7.8" text-anchor="end" fill="rgb(162,93,0)">8:04</text>
<text x="61.05" y="213.70" font-size="7.8" text-anchor="end" fill="rgb(139,116,0)">8:05</text>
<text x="53.22" y="205.80" font-size="7.8" text-anchor="end" fill="rgb(116,139,0)">8:06</text>
<text x="45.39" y="197.90" font-size="7.8" text-anchor="end" fill="rgb(93,162,0)">8:07</text>
<text x="37.56" y="190.00" font-size="7.8" text-anchor="end" fill="rgb(70,185,0)">8:08</text>
<text x="29.73" y="182.10" font-size="7.8" text-anchor="end" fill="rgb(46,209,0)">8:09</text>
<text x="21.90" y="174.20" font-size="7.8" text-anchor="end" fill="rgb(23,232,0)">8:10</text>
<text x="14.07" y="166.30" font-size="7.8" text-anchor="end" fill="rgb(0,255,0)">8:11</text>
<text x="57.6" y="25.1" font-size="23">Day 0</text>
<text y="85.1" font-size="21"><tspan x="189" font-style="italic">x</tspan><tspan x="202.8">(</tspan><tspan x="211.1">m</tspan><tspan x="227.6" y="77.4" font-size="11.5">3</tspan><tspan x="233.5" y="85.1">)</tspan></text>
<text y="135.2" font-size="21"><tspan x="152.8" font-style="italic">u</tspan><tspan x="163.2" y="129.6" font-size="14">*</tspan><tspan x="171.2" y="137.6" font-size="22">=</tspan><tspan x="186.3" y="135.2" font-style="italic" font-size="24">Q</tspan><tspan x="204" y="140" font-size="13">p</tspan></text>
<text y="135.2" font-size="21"><tspan x="421" font-style="italic">u</tspan><tspan x="430.9" y="129.6" font-size="14">*</tspan><tspan x="439.4" y="137.9" font-size="22">=</tspan></text>
<text x="0" y="0" font-size="21" transform="translate(456.6,135.4) scale(1.27,1)">0</text>
</svg></body></html>
